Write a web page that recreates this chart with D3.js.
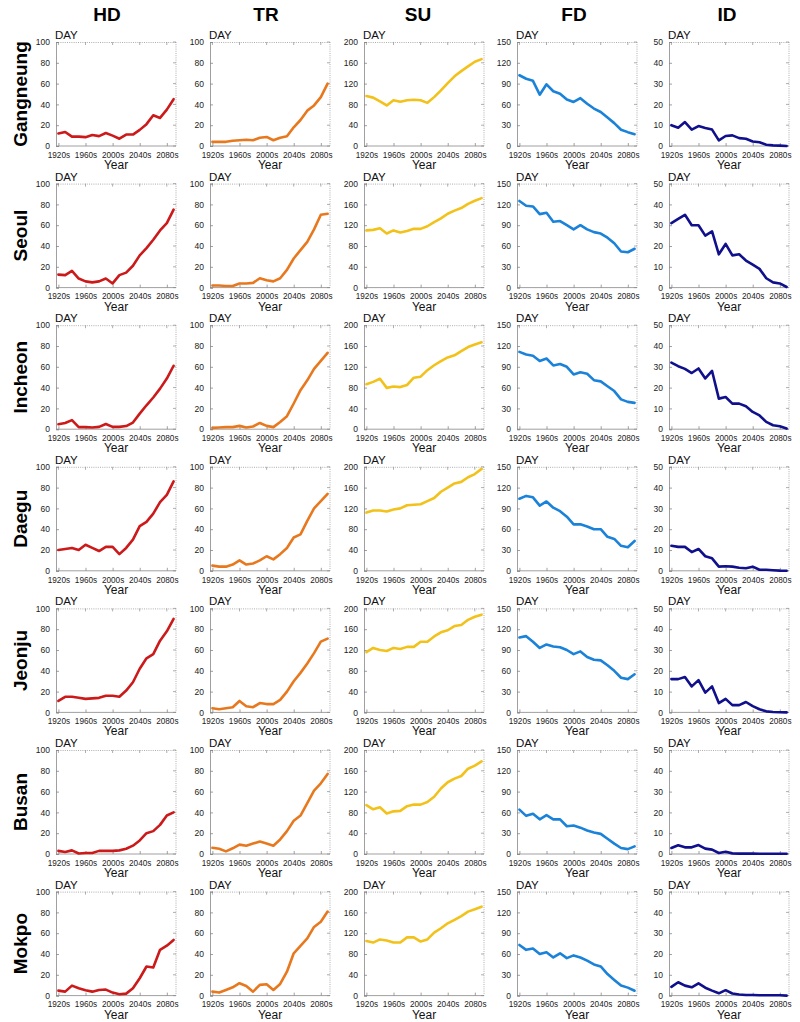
<!DOCTYPE html>
<html>
<head>
<meta charset="utf-8">
<script src="https://cdn.jsdelivr.net/npm/d3@7"></script>
<style>
  html, body { margin: 0; padding: 0; background: #fff; }
  svg { display: block; font-family: "Liberation Sans", Arial, sans-serif; }
</style>
</head>
<body>
<svg id="chart" width="800" height="1022"></svg>
<script>
// ---------- categories ----------
const decades = ["1920s","1930s","1940s","1950s","1960s","1970s","1980s","1990s","2000s","2010s","2020s","2030s","2040s","2050s","2060s","2070s","2080s","2090s"];
const tickDecades = ["1920s","1960s","2000s","2040s","2080s"];
const cities = ["Gangneung","Seoul","Incheon","Daegu","Jeonju","Busan","Mokpo"];
const indices = ["HD","TR","SU","FD","ID"];
const yMaxes = [100, 100, 200, 150, 50];
const yTickSteps = [20, 20, 40, 30, 10];
const colors = ["#cc1a1a", "#e8781e", "#f2c21a", "#1a82d8", "#10108c"];

// ---------- series (days per year, decadal) ----------
const gangneungHD = [12,13.5,9,9,8.5,10.5,9.5,12.5,10,7,11,11,15.5,21,29.5,27,35,45];
const gangneungTR = [4,4,4,5,5.5,6,5.5,8,8.7,5.5,8,9.3,18,25,34,39,47,60];
const gangneungSU = [96,93,86,78,88,85,88,89,88,83,94,107,121,134,144,153,162,167];
const gangneungFD = [102,97,94,74,89,79,75.5,67,63.5,69,61,54,49,41,33,23.5,20,17];
const gangneungID = [10,8.8,11.5,7.9,9.6,8.7,7.9,2.7,4.8,5.1,3.8,3.5,2.2,1.8,0.6,0.3,0.2,0];

const seoulHD = [12.5,12,16,8.7,6,5,6,8.7,4,12,14.4,21,31,38,46,55,62,75];
const seoulTR = [2,2,1.5,1.5,4,4,4.5,9,7,6,9,17,28,36,44,56,70,71];
const seoulSU = [110,111,114,104,110,106,109,113,113,118,126,133,142,148,153,161,167,172];
const seoulFD = [125,118,117,106,108,95,96,90,84,90,84,80,78,72,64,52,51,56];
const seoulID = [31,33,35,30,30,25,27,16,21,15.5,16,13,11,9,4.5,2.5,2,0.3];

const incheonHD = [4.8,6,8.7,2,2,1.6,2.2,5,2.2,2.2,3,6.4,15,23,30.5,39,48.7,61];
const incheonTR = [1.3,1.6,2,2,3.2,1.6,2.6,6,3.2,2,7,12.5,24.7,37.5,47,58,65.7,73.4];
const incheonSU = [86.5,91,97,79.5,82,81,85,99,101,113.5,123,131,138,142,150,158,163,167];
const incheonFD = [111.5,107.7,106,98.5,102,92,94,90,79,82,80,70.7,69,62,55,43,39.4,38];
const incheonID = [32,30.3,29,27,29.2,24.4,28,14.7,15.5,12.3,12.3,11,8.3,6.6,3.5,1.9,1.4,0.3];

const daeguHD = [20,21,22,20,25,22,19,23,23,16,22,30,43,47,55,66,73,86];
const daeguTR = [5,4,4,6,10,6,7,10,14,11,16,22,32,35,48,60,67,74];
const daeguSU = [112,116,116,114,118,120,126,127,128,134,140,152,160,168,171,180,186,196];
const daeguFD = [104,108,106,94,100,91,86,78,67,67,64,60,60,49,46,36,34,43];
const daeguID = [12,11.5,11.5,9,10.5,7,6,2,2.2,2,1.5,1.2,2,0.5,0.5,0.3,0.1,0];

const jeonjuHD = [11,15,15,14,13,13.5,14,16,16,15,21,29,42,52,56,69,78,90];
const jeonjuTR = [4,3,4,5,11,6,5,9,8,8,12,20,30,38,47,57,68,71];
const jeonjuSU = [116,124,120,118,124,122,126,126,136,136,146,154,158,166,168,178,184,188];
const jeonjuFD = [108,110,102,93,98,95,94,90,84,88,80,76,75,68,60,50,48,55];
const jeonjuID = [16,16,17,12.5,15.5,9.5,12.5,4.5,6.5,3.5,3.5,5,3,1.5,0.5,0.2,0.1,0];

const busanHD = [3,2,3.5,0.5,1,1,3,3,3,3.5,5,8,13,20,22,28,37,40];
const busanTR = [6,5,2.5,5.5,9,8,10,12,10,8,14,22,32,37,49,61,68,77];
const busanSU = [94,86,90,78,82,83,92,95,95,100,110,126,138,145,150,164,170,178];
const busanFD = [64,55,58,50,56,50,50,40,41,38,34,31,29,22,15,8.7,7,11];
const busanID = [2.9,4.2,3.2,3.2,4.3,2.6,2.1,0.5,1.1,0.3,0.2,0.2,0.2,0.1,0.1,0.1,0.1,0.1];

const mokpoHD = [4.8,3.8,9.6,7,5.1,3.8,5.4,5.8,2.9,1.3,1.9,7,16.7,28,27,44,48,53.5];
const mokpoTR = [3.8,2.9,5.4,8,11.9,9.3,3.8,10.3,10.9,5.4,11.2,23,40.7,47.8,55,66,71,80.8];
const mokpoSU = [105,102,108,106,102,102,112,112,104,108,121,129.5,139,145.5,153,161.5,166,171];
const mokpoFD = [73,66,68,60,62.5,55,61,54,58,55,50.5,45,42,31,22.6,14.4,11.5,7];
const mokpoID = [4.2,6.4,4.8,4,5.9,3.8,2.4,1.1,2.6,1,0.5,0.3,0.3,0.2,0.2,0.2,0.2,0];

const seriesTable = [
  [gangneungHD, gangneungTR, gangneungSU, gangneungFD, gangneungID],
  [seoulHD, seoulTR, seoulSU, seoulFD, seoulID],
  [incheonHD, incheonTR, incheonSU, incheonFD, incheonID],
  [daeguHD, daeguTR, daeguSU, daeguFD, daeguID],
  [jeonjuHD, jeonjuTR, jeonjuSU, jeonjuFD, jeonjuID],
  [busanHD, busanTR, busanSU, busanFD, busanID],
  [mokpoHD, mokpoTR, mokpoSU, mokpoFD, mokpoID]
];

// ---------- layout ----------
const svg = d3.select("#chart");
const colLefts = [56, 210, 364, 517, 669];
const plotW = 120, plotH = 104;
const rowTop0 = 42, rowStep = 141.6;
const headerX = [107, 266, 418, 574, 727];

const x = d3.scalePoint().domain(decades).range([2.4, plotW - 2.4]);

// column headers
indices.forEach((name, j) => {
  svg.append("text")
    .attr("x", headerX[j]).attr("y", 21)
    .attr("text-anchor", "middle")
    .attr("font-size", 19).attr("font-weight", "bold")
    .attr("font-family", "'Liberation Sans', Arial, sans-serif")
    .text(name);
});

cities.forEach((city, i) => {
  const top = rowTop0 + i * rowStep;
  // row label
  svg.append("text")
    .attr("transform", `translate(27,${top + plotH / 2}) rotate(-90)`)
    .attr("text-anchor", "middle")
    .attr("font-size", 19).attr("font-weight", "bold")
    .attr("font-family", "'Liberation Sans', Arial, sans-serif")
    .text(city);

  indices.forEach((idx, j) => {
    const g = svg.append("g").attr("transform", `translate(${colLefts[j]},${top})`);
    const y = d3.scaleLinear().domain([0, yMaxes[j]]).range([plotH, 0]);
    const yTicks = d3.range(0, yMaxes[j] + 0.001, yTickSteps[j]);

    // frame: dotted top / right
    g.append("line").attr("x1", 0).attr("x2", plotW).attr("y1", 0.5).attr("y2", 0.5)
      .attr("stroke", "#999").attr("stroke-width", 0.8).attr("stroke-dasharray", "1,1.2");
    g.append("line").attr("x1", plotW).attr("x2", plotW).attr("y1", 0).attr("y2", plotH)
      .attr("stroke", "#999").attr("stroke-width", 0.8).attr("stroke-dasharray", "1,1.2");

    // mirrored ticks on top and right
    tickDecades.forEach(d => {
      g.append("line").attr("x1", x(d)).attr("x2", x(d)).attr("y1", 0).attr("y2", 3)
        .attr("stroke", "#999").attr("stroke-width", 0.8);
    });
    yTicks.forEach(v => {
      g.append("line").attr("x1", plotW - 3).attr("x2", plotW).attr("y1", y(v)).attr("y2", y(v))
        .attr("stroke", "#999").attr("stroke-width", 0.8);
    });

    // left axis
    const yAxis = d3.axisLeft(y).tickValues(yTicks).tickSize(-3).tickPadding(6)
      .tickFormat(d3.format("d"));
    const ya = g.append("g").call(yAxis);
    ya.select(".domain").attr("stroke", "#888").attr("stroke-width", 0.8);
    ya.selectAll(".tick line").attr("stroke", "#888").attr("stroke-width", 0.8);
    ya.selectAll("text").attr("font-size", 8.5).attr("fill", "#222")
      .attr("font-family", "'Liberation Sans', Arial, sans-serif");

    // bottom axis
    const xAxis = d3.axisBottom(x).tickValues(tickDecades).tickSize(-3).tickPadding(6);
    const xa = g.append("g").attr("transform", `translate(0,${plotH})`).call(xAxis);
    xa.select(".domain").attr("stroke", "#888").attr("stroke-width", 0.8)
      .attr("d", `M0,0H${plotW}`);
    xa.selectAll(".tick line").attr("stroke", "#888").attr("stroke-width", 0.8);
    xa.selectAll("text").attr("font-size", 8.2).attr("fill", "#222")
      .attr("font-family", "'Liberation Sans', Arial, sans-serif");

    // DAY label
    g.append("text").attr("x", -1).attr("y", -3)
      .attr("font-size", 11.5).attr("fill", "#111")
      .attr("font-family", "'Liberation Sans', Arial, sans-serif")
      .text("DAY");

    // Year label
    g.append("text").attr("x", plotW / 2).attr("y", plotH + 23)
      .attr("text-anchor", "middle").attr("font-size", 12).attr("fill", "#111")
      .attr("font-family", "'Liberation Sans', Arial, sans-serif")
      .text("Year");

    // series line
    const vals = seriesTable[i][j];
    const line = d3.line()
      .x((v, k) => x(decades[k]))
      .y(v => y(Math.max(0, v)));
    g.append("path").datum(vals)
      .attr("d", line)
      .attr("fill", "none")
      .attr("stroke", colors[j])
      .attr("stroke-width", 2.6)
      .attr("stroke-linejoin", "round")
      .attr("stroke-linecap", "round");
  });
});
</script>
</body>
</html>
